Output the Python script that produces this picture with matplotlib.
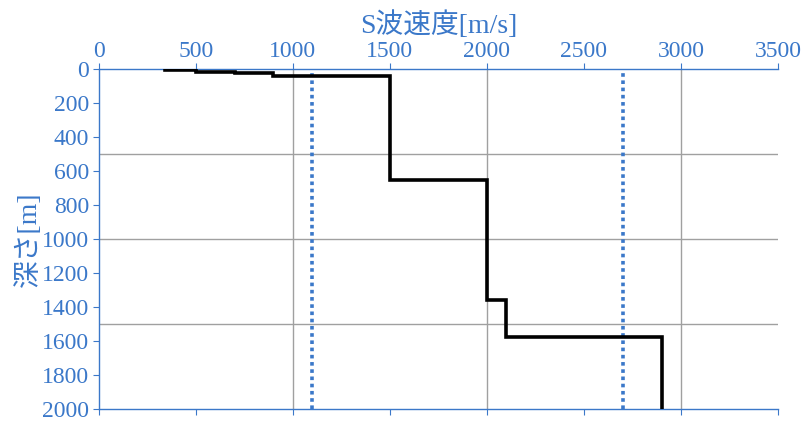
import matplotlib
matplotlib.use("Agg")
import matplotlib.pyplot as plt

# layer data: S-wave velocity [m/s] and layer boundaries [m]
vs = [340, 500, 700, 900, 1500, 2000, 2100, 2900]
depth_bounds = [0, 8, 18, 25, 40, 655, 1360, 1575, 2000]
ref_vs = [1100, 2700]

x_ticks = [0, 500, 1000, 1500, 2000, 2500, 3000, 3500]
y_ticks = [0, 200, 400, 600, 800, 1000, 1200, 1400, 1600, 1800, 2000]
x_grid = [1000, 2000, 3000]
y_grid = [500, 1000, 1500]

blue = "#3b78c9"
fonts = ["Liberation Serif", "Noto Sans CJK JP"]
plt.rcParams["font.family"] = fonts

# build step profile
px, py = [], []
for i, v in enumerate(vs):
    px += [v, v]
    py += [depth_bounds[i], depth_bounds[i + 1]]

fig = plt.figure(figsize=(8.1, 4.26), dpi=100)
ax = fig.add_axes([98.7 / 810, 1 - 409 / 426, (778 - 98.7) / 810, (409 - 69) / 426])

for g in x_grid:
    ax.axvline(g, color="#a0a0a0", lw=1, zorder=1)
for g in y_grid:
    ax.axhline(g, color="#a0a0a0", lw=1, zorder=1)

for r in ref_vs:
    ax.axvline(r, color=blue, lw=2.6, linestyle=(0, (1, 1)), zorder=2)

ax.plot(px, py, color="black", lw=2.6, solid_joinstyle="miter", zorder=3)

ax.set_xlim(0, 3500)
ax.set_ylim(2000, 0)
ax.set_xticks(x_ticks)
ax.set_yticks(y_ticks)

ax.xaxis.set_label_position("top")
ax.set_xlabel("S波速度[m/s]", fontsize=20, color=blue, labelpad=6)
ax.set_ylabel("深さ[m]", fontsize=20, color=blue, labelpad=0)

ax.tick_params(axis="x", top=True, bottom=True, labeltop=True, labelbottom=False,
               direction="out", length=4, color=blue, labelsize=17, labelcolor=blue, pad=1)
ax.tick_params(axis="y", left=True, right=False, direction="out", length=4,
               color=blue, labelsize=17, labelcolor=blue, pad=3)

for s in ["top", "bottom", "left"]:
    ax.spines[s].set_color(blue)
    ax.spines[s].set_linewidth(1)
ax.spines["right"].set_visible(False)

fig.savefig("out.png", dpi=100)
